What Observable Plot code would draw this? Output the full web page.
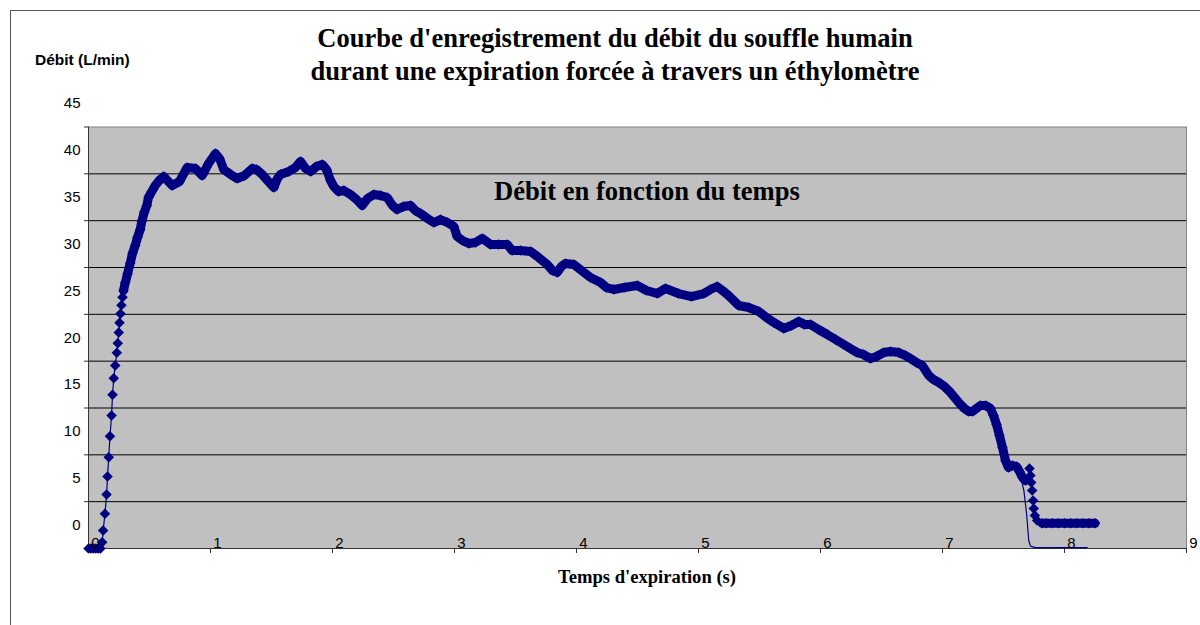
<!DOCTYPE html>
<html><head><meta charset="utf-8">
<script src="https://cdn.jsdelivr.net/npm/d3@7"></script>
<script src="https://cdn.jsdelivr.net/npm/@observablehq/plot@0.6"></script>
<style>
html,body{margin:0;padding:0;background:#fff;}
#wrap{position:relative;width:1200px;height:625px;overflow:hidden;background:#fff;}
#chart svg{position:absolute;left:0;top:0;}
.t{position:absolute;white-space:nowrap;color:#000;}
.serif{font-family:"Liberation Serif","Times New Roman",serif;font-weight:bold;}
.sans{font-family:"Liberation Sans",Arial,sans-serif;font-weight:bold;}
#frame{position:absolute;left:10px;top:10px;width:1300px;height:800px;border-left:1px solid #555;border-top:1px solid #555;}
</style></head>
<body><div id="wrap">
<div id="frame"></div>
<div id="chart"></div>
<div class="t serif" style="left:0;width:1230px;text-align:center;top:22px;font-size:26.5px;line-height:33px">Courbe d'enregistrement du débit du souffle humain<br>durant une expiration forcée à travers un éthylomètre</div>
<div class="t sans" style="left:35px;top:51px;font-size:15.5px;line-height:18px">Débit (L/min)</div>
<div class="t serif" style="left:494px;top:176px;font-size:26.6px;line-height:30px">Débit en fonction du temps</div>
<div class="t serif" style="left:0;width:1294px;text-align:center;top:566px;font-size:18.6px;line-height:22px">Temps d'expiration (s)</div>
</div>
<script>
// Axis definitions
const xDomain = [0, 9];
const yDomain = [-2.5, 42.5];
const xTicks = [0, 1, 2, 3, 4, 5, 6, 7, 8, 9];
const yTickLabels = [0, 5, 10, 15, 20, 25, 30, 35, 40, 45];
const yGridLines = [-2.5, 2.5, 7.5, 12.5, 17.5, 22.5, 27.5, 32.5, 37.5, 42.5];

// Marker series (time in s, flow in L/min)
const time = [
  0, 0.02, 0.04, 0.06, 0.08, 0.098,
  0.112, 0.120, 0.135, 0.148, 0.156, 0.166, 0.176, 0.189, 0.197, 0.207,
  0.219, 0.232, 0.240, 0.248, 0.254, 0.262, 0.270, 0.279, 0.287, 0.301,
  0.320, 0.342, 0.361, 0.383, 0.402, 0.424, 0.437, 0.457, 0.478, 0.492,
  0.519, 0.547, 0.580, 0.617, 0.686, 0.746, 0.809, 0.877, 0.932, 0.984,
  1.041, 1.074, 1.109, 1.164, 1.219, 1.279, 1.342, 1.377, 1.424, 1.467,
  1.519, 1.549, 1.574, 1.642, 1.697, 1.738, 1.779, 1.820, 1.869, 1.916,
  1.951, 1.984, 2.011, 2.049, 2.093, 2.148, 2.197, 2.243, 2.287, 2.339,
  2.393, 2.448, 2.492, 2.530, 2.582, 2.639, 2.680, 2.721, 2.779, 2.830,
  2.885, 2.943, 2.994, 3.022, 3.066, 3.117, 3.172, 3.227, 3.295, 3.361,
  3.432, 3.473, 3.541, 3.623, 3.689, 3.760, 3.803, 3.842, 3.877, 3.910,
  3.978, 4.041, 4.115, 4.197, 4.246, 4.306, 4.393, 4.498, 4.574, 4.661,
  4.730, 4.836, 4.943, 5.043, 5.098, 5.153, 5.197, 5.246, 5.330, 5.412,
  5.494, 5.557, 5.617, 5.699, 5.762, 5.822, 5.869, 5.918, 5.984, 6.055,
  6.123, 6.191, 6.246, 6.301, 6.352, 6.410, 6.459, 6.519, 6.574, 6.642,
  6.697, 6.738, 6.787, 6.834, 6.888, 6.926, 6.970, 7.016, 7.066, 7.107,
  7.148, 7.180, 7.216, 7.246, 7.279, 7.311, 7.352, 7.393, 7.418, 7.443,
  7.467, 7.492, 7.516, 7.541, 7.574, 7.607, 7.631, 7.656, 7.680,
  7.713, 7.721, 7.727, 7.735, 7.743, 7.748, 7.757, 7.776,
  7.817, 7.85, 7.9, 7.95, 8.0, 8.05, 8.1, 8.15, 8.2, 8.25
];
const flow = [
  -2.5, -2.5, -2.5, -2.5, -2.5, -2.5,
  -1.83, -0.58, 1.20, 3.27, 5.19, 7.25, 9.49, 11.70, 13.91, 15.68,
  17.04, 18.39, 19.42, 20.56, 21.60, 22.56, 23.47, 24.33, 25.04, 25.87,
  26.83, 27.96, 29.03, 29.85, 30.73, 31.56, 32.44, 33.40, 34.12, 35.00,
  35.61, 36.25, 36.79, 37.21, 36.25, 36.68, 38.18, 38.07, 37.32, 38.60,
  39.67, 39.14, 37.96, 37.43, 37.00, 37.32, 38.07, 37.96, 37.43, 36.79,
  36.04, 37.00, 37.43, 37.75, 38.18, 38.82, 38.07, 37.75, 38.28, 38.50,
  37.96, 36.79, 36.15, 35.61, 35.72, 35.29, 34.76, 34.12, 34.87, 35.29,
  35.19, 34.97, 34.12, 33.69, 34.01, 34.12, 33.58, 33.26, 32.73, 32.30,
  32.62, 32.30, 31.88, 30.81, 30.38, 30.06, 30.17, 30.60, 29.96, 29.96,
  29.96, 29.31, 29.31, 29.21, 28.57, 27.82, 27.18, 26.97, 27.61, 27.93,
  27.82, 27.18, 26.43, 25.90, 25.36, 25.15, 25.36, 25.58, 25.04, 24.72,
  25.26, 24.72, 24.40, 24.72, 25.15, 25.47, 25.04, 24.51, 23.44, 23.23,
  22.80, 22.16, 21.63, 20.99, 21.31, 21.73, 21.41, 21.41, 20.88, 20.35,
  19.81, 19.28, 18.85, 18.42, 18.21, 17.78, 18.00, 18.42, 18.53, 18.42,
  18.10, 17.78, 17.36, 17.04, 15.97, 15.54, 15.22, 14.80, 14.15, 13.51,
  12.87, 12.45, 12.13, 12.13, 12.45, 12.77, 12.77, 12.45, 11.70, 10.74,
  9.56, 8.28, 6.89, 6.15, 6.36, 6.25, 5.72, 5.08, 4.76,
  6.04, 5.29, 4.55, 3.69, 2.62, 1.77, 1.02, 0.49,
  0.20, 0.20, 0.20, 0.20, 0.20, 0.20, 0.20, 0.20, 0.20, 0.20
];

// Thin line series: same as markers until ~7.63 s, then this tail
const lineTailTime = [7.667, 7.689, 7.707, 7.721, 7.762, 8.186];
const lineTailFlow = [3.69, 1.24, -1.65, -2.25, -2.4, -2.4];

const markers = time.map((t, i) => ({t, v: flow[i]}));
const lineData = markers.filter(d => d.t <= 7.64)
  .concat(lineTailTime.map((t, i) => ({t, v: lineTailFlow[i]})));
const bandData = markers
  .map(d => ({...d, seg: (d.t >= 0.285 && d.t <= 7.69) ? "a" : (d.t >= 7.8 ? "b" : null)}))
  .filter(d => d.seg);

const diamond = {
  draw(ctx, size) {
    const h = Math.sqrt(size / 2);
    ctx.moveTo(0, -h); ctx.lineTo(h, 0); ctx.lineTo(0, h); ctx.lineTo(-h, 0); ctx.closePath();
  }
};

const navy = "#000080";
const chart = Plot.plot({
  width: 1200, height: 625,
  marginTop: 126.5, marginRight: 14, marginBottom: 77, marginLeft: 88,
  x: {type: "linear", domain: xDomain},
  y: {type: "linear", domain: yDomain},
  style: {background: "transparent", fontFamily: "'Liberation Sans', Arial, sans-serif", fontSize: "15px", color: "#000"},
  marks: [
    Plot.frame({fill: "#c0c0c0", stroke: "#808080"}),
    Plot.ruleY(yGridLines.slice(1, -1), {stroke: "#000", strokeWidth: 1}),
    Plot.ruleX([xDomain[0]], {stroke: "#333"}),
    Plot.ruleY([yDomain[0]], {stroke: "#333"}),
    Plot.axisY(yGridLines, {tickSize: 4, tickFormat: () => "", label: null, stroke: "#333"}),
    Plot.axisX(xTicks, {tickSize: 5, tickFormat: () => "", label: null, stroke: "#333"}),
    Plot.text(yTickLabels, {y: d => d, frameAnchor: "left", dx: -8, textAnchor: "end", fontSize: 15, fill: "#000"}),
    Plot.line(lineData, {x: "t", y: "v", stroke: navy, strokeWidth: 1.2}),
    Plot.line(bandData, {x: "t", y: "v", z: "seg", stroke: navy, strokeWidth: 9, strokeLinejoin: "round", strokeLinecap: "round"}),
    Plot.dot(markers, {x: "t", y: "v", r: 4.2, symbol: diamond, fill: navy, stroke: "none"}),
    Plot.text(xTicks, {x: d => d, frameAnchor: "bottom", dx: 7, dy: -1, fontSize: 15, fill: "#000"})
  ]
});
document.getElementById("chart").appendChild(chart);
</script>
</body></html>
